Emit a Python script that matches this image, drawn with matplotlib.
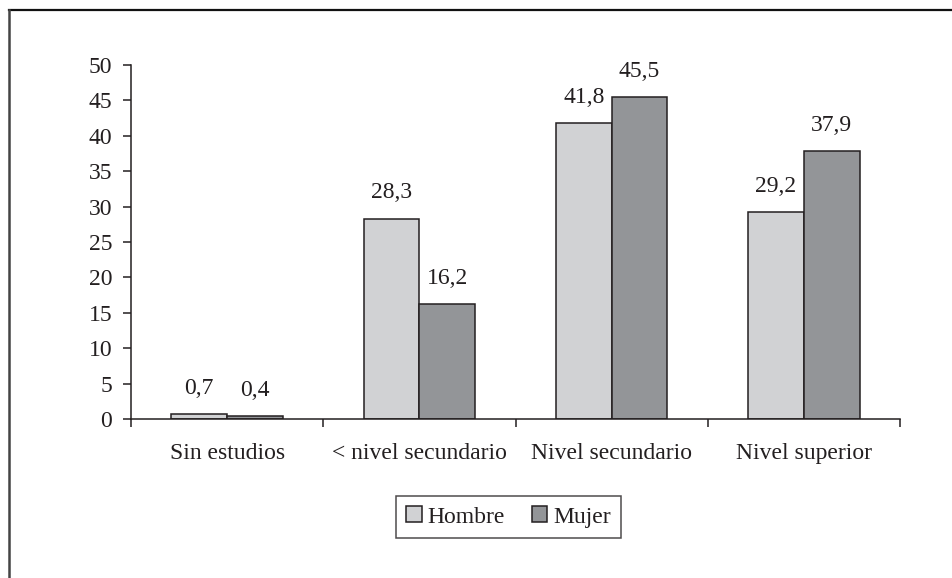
import matplotlib.pyplot as plt
from matplotlib.lines import Line2D
import numpy as np

plt.rcParams["font.family"] = ["Liberation Serif", "DejaVu Serif"]

categorias = ["Sin estudios", "< nivel secundario", "Nivel secundario", "Nivel superior"]
hombre = [0.7, 28.3, 41.8, 29.2]
mujer = [0.4, 16.2, 45.5, 37.9]
yticks = [0, 5, 10, 15, 20, 25, 30, 35, 40, 45, 50]

fig = plt.figure(figsize=(9.52, 5.78), dpi=100)
ax = fig.add_axes([131 / 952, 1 - 419 / 578, 769 / 952, 354 / 578])

x = np.arange(len(categorias))
w = 0.29
edge = "#231f20"
b1 = ax.bar(x - w / 2, hombre, w, color="#d1d2d4", edgecolor=edge, linewidth=1.1, label="Hombre")
b2 = ax.bar(x + w / 2, mujer, w, color="#939598", edgecolor=edge, linewidth=1.1, label="Mujer")

for bars, vals in ((b1, hombre), (b2, mujer)):
    for rect, v in zip(bars, vals):
        ax.annotate(f"{v:.1f}".replace(".", ","),
                    (rect.get_x() + rect.get_width() / 2, v),
                    xytext=(0, 14.5), textcoords="offset points",
                    ha="center", va="baseline", fontsize=17, color="#231f20")

ax.set_xlim(-0.5, len(categorias) - 0.5)
ax.set_ylim(0, 50)
ax.set_yticks(yticks)
ax.set_xticks(x)
ax.set_xticklabels(categorias)
ax.set_xticks(np.arange(len(categorias) + 1) - 0.5, minor=True)
ax.tick_params(axis="x", which="major", length=0, pad=17, labelsize=17, labelcolor="#231f20")
ax.tick_params(axis="x", which="minor", length=5.5, width=1.1, direction="out", color=edge)
ax.tick_params(axis="y", length=5.5, width=1.1, pad=8, labelsize=17, labelcolor="#231f20", color=edge)

for s in ("top", "right"):
    ax.spines[s].set_visible(False)
for s in ("left", "bottom"):
    ax.spines[s].set_linewidth(1.1)
    ax.spines[s].set_color(edge)

leg = fig.legend(loc="center", bbox_to_anchor=(508.5 / 952, 1 - 517 / 578), ncol=2,
                 fontsize=17, frameon=True, fancybox=False, handlelength=0.65,
                 handleheight=0.65, handletextpad=0.25, columnspacing=1.15,
                 borderpad=0.45, borderaxespad=0)
leg.get_frame().set_edgecolor(edge)
leg.get_frame().set_linewidth(1.1)
for t in leg.get_texts():
    t.set_color("#231f20")

# outer frame: top and left rules only
fig.add_artist(Line2D([9 / 952, 1], [1 - 10 / 578, 1 - 10 / 578], color="#111111", linewidth=1.6,
                      transform=fig.transFigure))
fig.add_artist(Line2D([9 / 952, 9 / 952], [0, 1 - 10 / 578], color="#444444", linewidth=1.8,
                      transform=fig.transFigure))

plt.savefig("out.png", dpi=100)
